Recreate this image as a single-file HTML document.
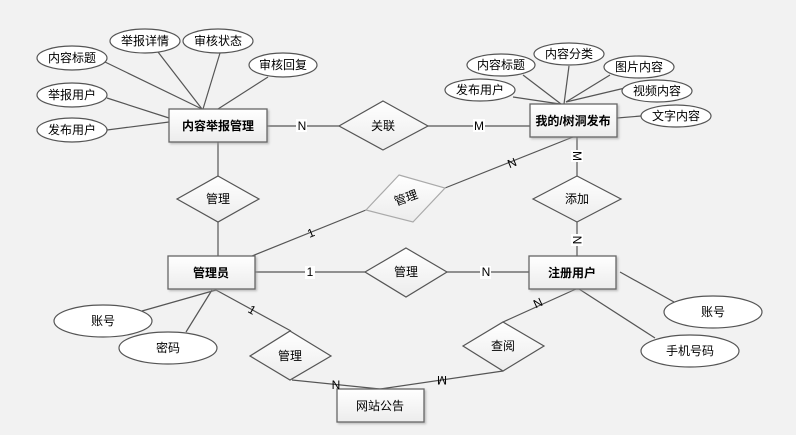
<!DOCTYPE html>
<html><head><meta charset="utf-8"><style>
html,body{margin:0;padding:0;background:#f2f2f2;}
svg{display:block;}
text{font-family:"Liberation Sans","Noto Sans CJK SC",sans-serif;font-size:12px;fill:#000;text-anchor:middle;dominant-baseline:central;}
.b{font-weight:bold;}
.l{stroke:#555;stroke-width:1.2;fill:none;}
.e{fill:#fff;stroke:#555;stroke-width:1.2;}
.r{fill:url(#g);stroke:#666;stroke-width:1.3;}
.d{fill:url(#g);stroke:#555;stroke-width:1.2;}
.lb{fill:#fff;}
</style></head><body>
<svg width="796" height="435" viewBox="0 0 796 435" xmlns="http://www.w3.org/2000/svg">
<defs>
<linearGradient id="g" x1="0" y1="0" x2="0" y2="1"><stop offset="0" stop-color="#ffffff"/><stop offset="1" stop-color="#ececec"/></linearGradient>
<filter id="s" x="-20%" y="-20%" width="150%" height="150%"><feDropShadow dx="1.5" dy="1.5" stdDeviation="1" flood-color="#999" flood-opacity="0.6"/></filter>
</defs>
<!-- lines -->
<g class="l">
<line x1="105" y1="62" x2="202" y2="109"/>
<line x1="158" y1="52" x2="202" y2="109"/>
<line x1="220" y1="53" x2="203" y2="109"/>
<line x1="268" y1="77" x2="218" y2="109"/>
<line x1="107" y1="98" x2="169" y2="118"/>
<line x1="107" y1="130" x2="169" y2="122"/>
<line x1="267" y1="126" x2="339" y2="126"/>
<line x1="428" y1="126" x2="530" y2="126"/>
<line x1="513" y1="97" x2="560" y2="104"/>
<line x1="523" y1="75" x2="561" y2="104"/>
<line x1="569" y1="66" x2="564" y2="104"/>
<line x1="610" y1="75" x2="566" y2="102"/>
<line x1="625" y1="88" x2="566" y2="102"/>
<line x1="641" y1="116" x2="617" y2="118"/>
<line x1="577" y1="137" x2="577" y2="176"/>
<line x1="577" y1="222" x2="577" y2="256"/>
<line x1="573" y1="137" x2="445" y2="188"/>
<line x1="218" y1="142" x2="218" y2="176"/>
<line x1="218" y1="222" x2="218" y2="256"/>
<line x1="252" y1="256" x2="366" y2="210"/>
<line x1="255" y1="272" x2="365" y2="272"/>
<line x1="447" y1="272" x2="529" y2="272"/>
<line x1="216" y1="290" x2="142" y2="311"/>
<line x1="212" y1="290" x2="186" y2="332"/>
<line x1="216" y1="290" x2="291" y2="331"/>
<line x1="292" y1="380" x2="380" y2="389"/>
<line x1="380" y1="389" x2="503" y2="371"/>
<line x1="576" y1="289" x2="503" y2="322"/>
<line x1="620" y1="272" x2="674" y2="302"/>
<line x1="579" y1="289" x2="655" y2="338"/>
</g>
<!-- ellipses -->
<g class="e">
<ellipse cx="72" cy="58" rx="35" ry="12"/>
<ellipse cx="145" cy="41" rx="35" ry="12"/>
<ellipse cx="218" cy="41" rx="35" ry="12"/>
<ellipse cx="283" cy="65" rx="34" ry="12"/>
<ellipse cx="72" cy="95" rx="35" ry="12"/>
<ellipse cx="72" cy="130" rx="35" ry="12"/>
<ellipse cx="480" cy="90" rx="35" ry="11"/>
<ellipse cx="501" cy="65" rx="34" ry="11"/>
<ellipse cx="569" cy="54" rx="35" ry="11"/>
<ellipse cx="639" cy="67" rx="35" ry="11"/>
<ellipse cx="657" cy="91" rx="35" ry="11"/>
<ellipse cx="676" cy="116" rx="35" ry="11"/>
<ellipse cx="103" cy="321" rx="49" ry="16"/>
<ellipse cx="168" cy="348" rx="49" ry="16"/>
<ellipse cx="713" cy="312" rx="49" ry="16"/>
<ellipse cx="690" cy="351" rx="49" ry="16"/>
</g>
<!-- rects -->
<g filter="url(#s)">
<rect class="r" x="169" y="109" width="98" height="33"/>
<rect class="r" x="530" y="104" width="87" height="33"/>
<rect class="r" x="168" y="256" width="87" height="33"/>
<rect class="r" x="529" y="256" width="87" height="33"/>
<rect class="r" x="337" y="389" width="87" height="33"/>
</g>
<!-- diamonds -->
<polygon class="d" points="383,101 428,126 383,150 339,126"/>
<polygon class="d" points="218,176 259,199 218,222 177,199"/>
<polygon class="d" points="577,176 621,199 577,222 533,199"/>
<polygon class="d" style="stroke:#aaa" points="399,175 445,188 413,222 366,210"/>
<polygon class="d" points="406,248 447,272 406,297 365,272"/>
<polygon class="d" points="290,331 331,356 290,380 250,356"/>
<polygon class="d" points="503,322 544,346 503,371 463,346"/>
<!-- text -->
<text x="72" y="58">内容标题</text>
<text x="145" y="41">举报详情</text>
<text x="218" y="41">审核状态</text>
<text x="283" y="65">审核回复</text>
<text x="72" y="95">举报用户</text>
<text x="72" y="130">发布用户</text>
<text x="480" y="90">发布用户</text>
<text x="501" y="65">内容标题</text>
<text x="569" y="54">内容分类</text>
<text x="639" y="67">图片内容</text>
<text x="657" y="91">视频内容</text>
<text x="676" y="116">文字内容</text>
<text x="103" y="321">账号</text>
<text x="168" y="348">密码</text>
<text x="713" y="312">账号</text>
<text x="690" y="351">手机号码</text>
<text class="b" x="218" y="126">内容举报管理</text>
<text class="b" x="573" y="121">我的/树洞发布</text>
<text class="b" x="211" y="273">管理员</text>
<text class="b" x="572" y="273">注册用户</text>
<text x="380" y="406">网站公告</text>
<text x="383" y="126">关联</text>
<text x="218" y="199">管理</text>
<text x="577" y="199">添加</text>
<text x="406" y="198" transform="rotate(-20 406 198)">管理</text>
<text x="406" y="272">管理</text>
<text x="290" y="356">管理</text>
<text x="503" y="346">查阅</text>
<!-- cardinality -->
<g>
<rect class="lb" x="296" y="119" width="11" height="13"/><text x="302" y="126">N</text>
<rect class="lb" x="473" y="119" width="12" height="13"/><text x="479" y="126">M</text>
<rect class="lb" x="571" y="150" width="12" height="12"/><text x="577" y="156" transform="rotate(90 577 156)">M</text>
<rect class="lb" x="571" y="234" width="12" height="12"/><text x="577" y="240" transform="rotate(90 577 240)">N</text>
<text x="512" y="163" transform="rotate(-22 512 163)">N</text>
<text x="311" y="233" transform="rotate(-22 311 233)">1</text>
<rect class="lb" x="305" y="266" width="10" height="13"/><text x="310" y="272">1</text>
<rect class="lb" x="480" y="266" width="11" height="13"/><text x="486" y="272">N</text>
<text x="252" y="310" transform="rotate(30 252 310)">1</text>
<text x="336" y="385">N</text>
<text x="442" y="380" transform="rotate(180 442 380)">M</text>
<text x="538" y="303" transform="rotate(-25 538 303)">N</text>
</g>
</svg>
</body></html>
